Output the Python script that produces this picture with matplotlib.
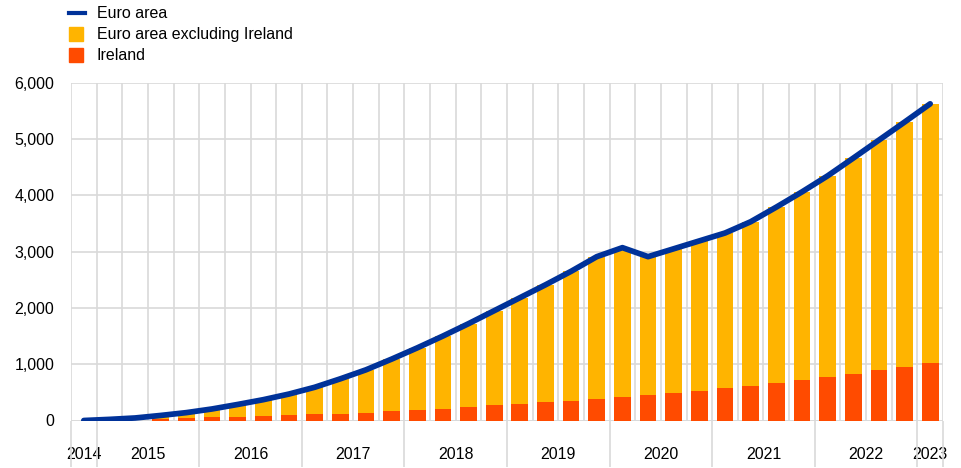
import numpy as np
import matplotlib
matplotlib.use("Agg")
import matplotlib.pyplot as plt
from matplotlib.lines import Line2D
from matplotlib.patches import Rectangle

plt.rcParams['font.family'] = ['Liberation Sans', 'DejaVu Sans']

# Quarterly data, 2014 Q4 .. 2023 Q1
quarters = [f"{y}Q{q}" for y in range(2014, 2024) for q in range(1, 5)][3:37]
euro_area = [0, 20, 45, 90, 140, 205, 285, 370, 470, 590, 740, 900,
             1090, 1290, 1500, 1720, 1950, 2180, 2410, 2650, 2910, 3070,
             2910, 3050, 3190, 3330, 3530, 3790, 4060, 4345, 4660, 4980,
             5300, 5625]
ireland = [np.nan, np.nan, np.nan, 25, 39, 55, 60, 74, 92, 108, 121, 142,
           169, 192, 212, 246, 267, 298, 326, 355, 387, 423,
           455, 494, 529, 572, 618, 671, 715, 778, 831, 891, 956, 1016]
excl_ireland = [np.nan, np.nan, np.nan, 65, 101, 150, 225, 296, 378, 482, 619, 758,
                921, 1098, 1288, 1474, 1683, 1882, 2084, 2295, 2523, 2647,
                2455, 2556, 2661, 2758, 2912, 3119, 3345, 3567, 3829, 4089,
                4344, 4609]
year_labels = ["2014", "2015", "2016", "2017", "2018", "2019", "2020", "2021", "2022", "2023"]
y_ticks = [0, 1000, 2000, 3000, 4000, 5000, 6000]

C_LINE = "#003299"
C_YEL = "#FFB400"
C_RED = "#FF4B00"
C_GRID = "#d9d9d9"
FS = 11.5

fig = plt.figure(figsize=(9.62, 4.68), dpi=100)
ax = fig.add_axes([71/962, 47.5/468, 872/962, 337.8/468])

x = np.arange(len(quarters))
ire = np.array(ireland, dtype=float)
exc = np.array(excl_ireland, dtype=float)
ax.bar(x, ire, width=0.65, color=C_RED, zorder=2)
ax.bar(x, exc, width=0.65, bottom=ire, color=C_YEL, zorder=2)
ax.plot(x, euro_area, color=C_LINE, lw=4.1, solid_capstyle='round',
        solid_joinstyle='round', zorder=3)

ax.set_xlim(-0.5, len(quarters) - 0.5)
ax.set_ylim(0, 6000)

# grid
ax.set_yticks(y_ticks)
ax.set_yticklabels([f"{v:,}" for v in y_ticks], fontsize=FS)
ax.yaxis.grid(True, color=C_GRID, lw=1.2, zorder=0)
ax.vlines(np.arange(-0.5, len(quarters), 1), 0, 6000, color=C_GRID, lw=1.2, zorder=0)
ax.set_axisbelow(True)
for s in ax.spines.values():
    s.set_visible(False)
ax.tick_params(axis='y', length=0, pad=12)

# year separators and labels
years = [int(q[:4]) for q in quarters]
seps = [-0.5] + [i - 0.5 for i in range(1, len(quarters)) if years[i] != years[i-1]] + [len(quarters) - 0.5]
centers = [(seps[k] + seps[k+1]) / 2 for k in range(len(seps) - 1)]
ax.set_xticks(centers)
ax.set_xticklabels(year_labels, fontsize=FS)
ax.tick_params(axis='x', which='major', length=0, pad=19)
ax.set_xticks(seps, minor=True)
ax.tick_params(axis='x', which='minor', length=33, width=1.2, color=C_GRID, direction='out')
ax.axhline(0, color=C_GRID, lw=1.2, zorder=1)

# legend (manual)
rows = [("Euro area", "line", C_LINE), ("Euro area excluding Ireland", "patch", C_YEL), ("Ireland", "patch", C_RED)]
for k, (lab, kind, col) in enumerate(rows):
    yc = 1 - (13 + 21*k) / 468
    if kind == "line":
        fig.add_artist(Line2D([69/962, 85/962], [yc, yc], color=col, lw=3, transform=fig.transFigure))
    else:
        fig.add_artist(Rectangle((69/962, yc - 7/468), 14/962, 14/468, color=col, transform=fig.transFigure))
    fig.text(97/962, yc, lab, fontsize=FS, va='center', ha='left')

fig.savefig("out.png", dpi=100)
